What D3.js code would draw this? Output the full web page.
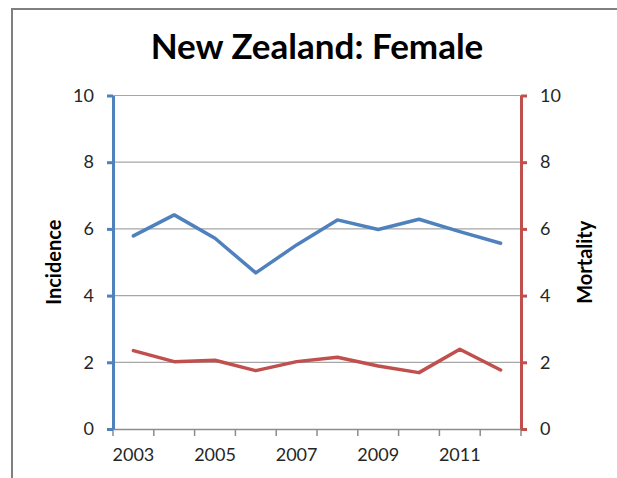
<!DOCTYPE html>
<html>
<head>
<meta charset="utf-8">
<script src="https://cdn.jsdelivr.net/npm/d3@7"></script>
<style>
  body { margin: 0; background: #fff; }
  svg { display: block; font-family: Lato, "Open Sans", sans-serif; }
</style>
</head>
<body>
<div id="vis"></div>
<script>
// constants for the frame
const FRAME_WIDTH = 617;
const FRAME_HEIGHT = 478;
const PLOT = {left: 113, right: 521, top: 95.5, bottom: 429};

// data
const YEARS = [2003, 2004, 2005, 2006, 2007, 2008, 2009, 2010, 2011, 2012];
const INCIDENCE = [5.79, 6.42, 5.72, 4.68, 5.52, 6.27, 5.98, 6.29, 5.92, 5.57];
const MORTALITY = [2.35, 2.02, 2.06, 1.75, 2.02, 2.15, 1.89, 1.69, 2.39, 1.77];
const Y_TICKS = [0, 2, 4, 6, 8, 10];
const X_LABELS = [2003, 2005, 2007, 2009, 2011];

const BLUE = "#4f81bd";
const RED = "#c0504d";

const FRAME = d3.select("#vis")
  .append("svg")
  .attr("width", FRAME_WIDTH)
  .attr("height", FRAME_HEIGHT);

// outer chart border (runs off the right and bottom edge)
FRAME.append("rect")
  .attr("x", 12)
  .attr("y", 9)
  .attr("width", 800)
  .attr("height", 600)
  .attr("fill", "white")
  .attr("stroke", "#808080")
  .attr("stroke-width", 2);

// scales
const X_SCALE = d3.scaleBand()
  .domain(YEARS)
  .range([PLOT.left, PLOT.right]);

const Y_LEFT = d3.scaleLinear()
  .domain([0, 10])
  .range([PLOT.bottom, PLOT.top]);

const Y_RIGHT = d3.scaleLinear()
  .domain([0, 10])
  .range([PLOT.bottom, PLOT.top]);

const xPos = (d) => X_SCALE(d) + X_SCALE.bandwidth() / 2;

// gridlines
FRAME.append("g")
  .selectAll("line")
  .data(Y_TICKS.filter((d) => d > 0))
  .enter()
  .append("line")
  .attr("x1", PLOT.left)
  .attr("x2", PLOT.right)
  .attr("y1", (d) => Y_LEFT(d))
  .attr("y2", (d) => Y_LEFT(d))
  .attr("stroke", "#a6a6a6")
  .attr("stroke-width", 1.2);

// x axis: line, boundary ticks, labels
const X_AXIS = FRAME.append("g")
  .attr("transform", "translate(0," + PLOT.bottom + ")")
  .call(d3.axisBottom(X_SCALE).tickValues(X_LABELS).tickSize(0).tickPadding(19));
X_AXIS.select(".domain").attr("stroke", "#8c8c8c").attr("stroke-width", 1.5);
X_AXIS.selectAll("text")
  .attr("font-size", "18px")
  .attr("fill", "#262626")
  .attr("font-family", "Lato, sans-serif");

const BOUNDS = YEARS.map((d) => X_SCALE(d)).concat([X_SCALE(YEARS[YEARS.length - 1]) + X_SCALE.bandwidth()]);
X_AXIS.selectAll(".bound")
  .data(BOUNDS)
  .enter()
  .append("line")
  .attr("x1", (d) => d)
  .attr("x2", (d) => d)
  .attr("y1", 0)
  .attr("y2", 7)
  .attr("stroke", "#8c8c8c")
  .attr("stroke-width", 1.5);

// left axis
const LEFT_AXIS = FRAME.append("g")
  .attr("transform", "translate(" + PLOT.left + ",0)")
  .call(d3.axisLeft(Y_LEFT).tickValues(Y_TICKS).tickSize(6).tickSizeOuter(0).tickPadding(13));
LEFT_AXIS.select(".domain").attr("stroke", BLUE).attr("stroke-width", 3);
LEFT_AXIS.selectAll(".tick line").attr("stroke", BLUE).attr("stroke-width", 3);
LEFT_AXIS.selectAll("text")
  .attr("font-size", "18px")
  .attr("fill", "#262626")
  .attr("font-family", "Lato, sans-serif");

// right axis
const RIGHT_AXIS = FRAME.append("g")
  .attr("transform", "translate(" + PLOT.right + ",0)")
  .call(d3.axisRight(Y_RIGHT).tickValues(Y_TICKS).tickSize(6).tickSizeOuter(0).tickPadding(13));
RIGHT_AXIS.select(".domain").attr("stroke", RED).attr("stroke-width", 3);
RIGHT_AXIS.selectAll(".tick line").attr("stroke", RED).attr("stroke-width", 3);
RIGHT_AXIS.selectAll("text")
  .attr("font-size", "18px")
  .attr("fill", "#262626")
  .attr("font-family", "Lato, sans-serif");

// lines
const INC_LINE = d3.line()
  .x((d, i) => xPos(YEARS[i]))
  .y((d) => Y_LEFT(d));

const MORT_LINE = d3.line()
  .x((d, i) => xPos(YEARS[i]))
  .y((d) => Y_RIGHT(d));

FRAME.append("path")
  .datum(INCIDENCE)
  .attr("d", INC_LINE)
  .attr("fill", "none")
  .attr("stroke", BLUE)
  .attr("stroke-width", 3.5)
  .attr("stroke-linejoin", "round")
  .attr("stroke-linecap", "round");

FRAME.append("path")
  .datum(MORTALITY)
  .attr("d", MORT_LINE)
  .attr("fill", "none")
  .attr("stroke", RED)
  .attr("stroke-width", 3.5)
  .attr("stroke-linejoin", "round")
  .attr("stroke-linecap", "round");

// title
FRAME.append("text")
  .attr("x", (PLOT.left + PLOT.right) / 2)
  .attr("y", 59)
  .attr("text-anchor", "middle")
  .attr("font-size", "35px")
  .attr("font-weight", "bold")
  .attr("fill", "black")
  .text("New Zealand: Female");

// axis titles
const MID_Y = (PLOT.top + PLOT.bottom) / 2;
FRAME.append("text")
  .attr("transform", "translate(61," + MID_Y + ") rotate(-90)")
  .attr("text-anchor", "middle")
  .attr("font-size", "20px")
  .attr("font-weight", "bold")
  .attr("fill", "black")
  .text("Incidence");

FRAME.append("text")
  .attr("transform", "translate(592," + MID_Y + ") rotate(-90)")
  .attr("text-anchor", "middle")
  .attr("font-size", "20px")
  .attr("font-weight", "bold")
  .attr("fill", "black")
  .text("Mortality");
</script>
</body>
</html>
